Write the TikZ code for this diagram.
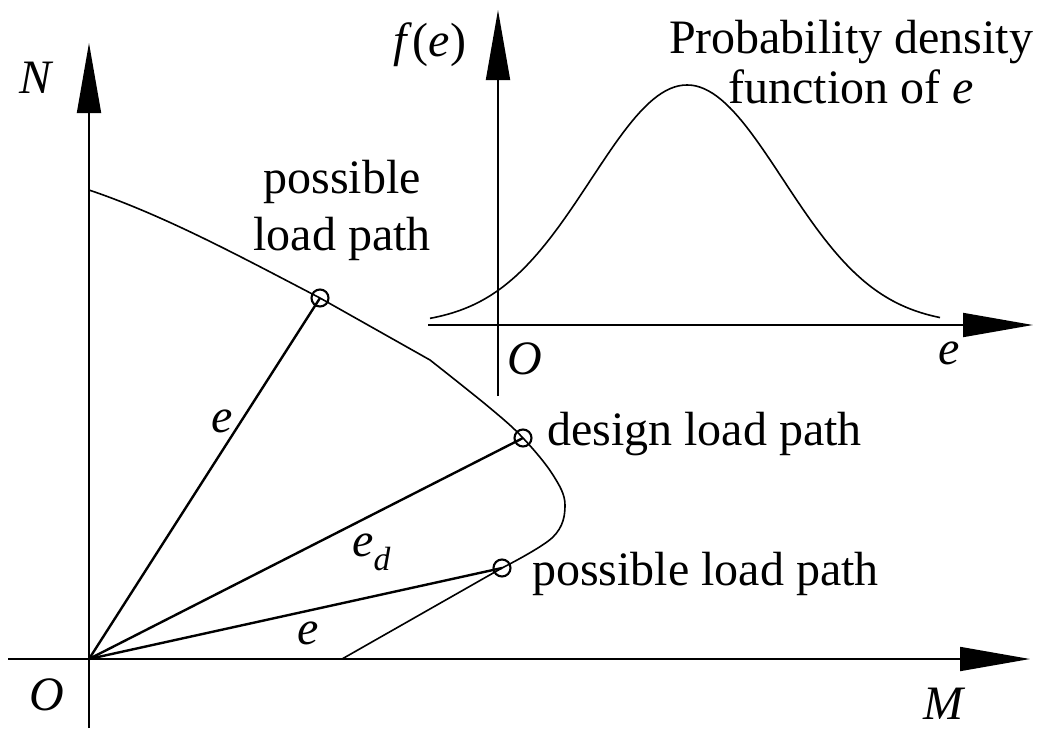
\documentclass[tikz,border=0pt]{standalone}
\usepackage{fontspec}
\setmainfont{Liberation Serif}
\usetikzlibrary{arrows.meta}

\begin{document}
\begin{tikzpicture}[x=1pt, y=-1pt, >={Triangle[length=70pt, width=24pt]},
    txt/.style={font=\fontsize{48}{57}\selectfont, inner sep=0pt},
    var/.style={font=\fontsize{48}{57}\selectfont\itshape, inner sep=0pt},
    axis/.style={line width=1.8pt},
    ray/.style={line width=2.4pt},
    bound/.style={line width=1.6pt},
    ringpt/.style={draw, circle, line width=2.1pt, minimum size=17pt, inner sep=0pt}]
  \useasboundingbox (0,0) rectangle (1042,731);

  % N-M axes
  \coordinate (O) at (89,659);
  \coordinate (Mtail) at (8,659);
  \coordinate (Mtip) at (1030,659);
  \coordinate (Ntail) at (89,728);
  \coordinate (Ntip) at (89,43);
  \draw[axis, ->] (Mtail) -- (Mtip);
  \draw[axis, ->] (Ntail) -- (Ntip);
  \node[var] (Nlbl) at (36,78) {N};
  \node[var] (Mlbl) at (943,704) {M};
  \node[var] (Olbl) at (47,695) {O};

  % interaction curve
  \coordinate (n0) at (89,190);
  \coordinate (k1) at (320,298);
  \coordinate (kink) at (430,360);
  \coordinate (kd) at (523,438);
  \coordinate (k2) at (502,568);
  \coordinate (m0) at (342,659);
  \draw[bound] (n0) .. controls (166,216) and (243,258) .. (k1) -- (kink)
    -- plot[smooth, tension=0.6] coordinates {(430,360) (490,408) (523,438) (553,475) (565,505) (553,537) (502,568)}
    -- (m0);

  \node[ringpt] (c1) at (k1) {};
  \node[ringpt] (cd) at (kd) {};
  \node[ringpt] (c2) at (k2) {};
  \draw[ray] (O) -- (c1.center);
  \draw[ray] (O) -- (cd.center);
  \draw[ray] (O) -- (c2.center);

  \node[var] (e1) at (222,421) {e};
  \node[var, anchor=base west] (ed) at (352,556) {e\textsubscript{d}};
  \node[var] (e2) at (308,633) {e};

  \node[txt, align=center, anchor=north] (lp1) at (342,160) {possible\\load path};
  \node[txt, anchor=base west] (dlp) at (547,445) {design load path};
  \node[txt, anchor=base west] (lp2) at (532,585) {possible load path};

  % probability density inset
  \coordinate (o2) at (498,325);
  \coordinate (etail) at (428,325);
  \coordinate (etip) at (1033,325);
  \coordinate (ftail) at (498,396);
  \coordinate (ftip) at (498,10);
  \draw[axis, ->] (etail) -- (etip);
  \draw[axis, ->] (ftail) -- (ftip);
  \draw[bound] plot[domain=430:940, samples=120]
    (\x, {325-240*exp(-0.5*((\x-687)/96)*((\x-687)/96))});

  \node[txt] (flbl) at (430,45) {\textit{f}(\textit{e})};
  \node[var] (o2lbl) at (525,359) {O};
  \node[var] (elbl) at (949,353) {e};
  \node[txt, align=center, anchor=north, font=\fontsize{48}{50}\selectfont] (pdf) at (851,20) {Probability density\\function of \textit{e}};
\end{tikzpicture}
\end{document}
